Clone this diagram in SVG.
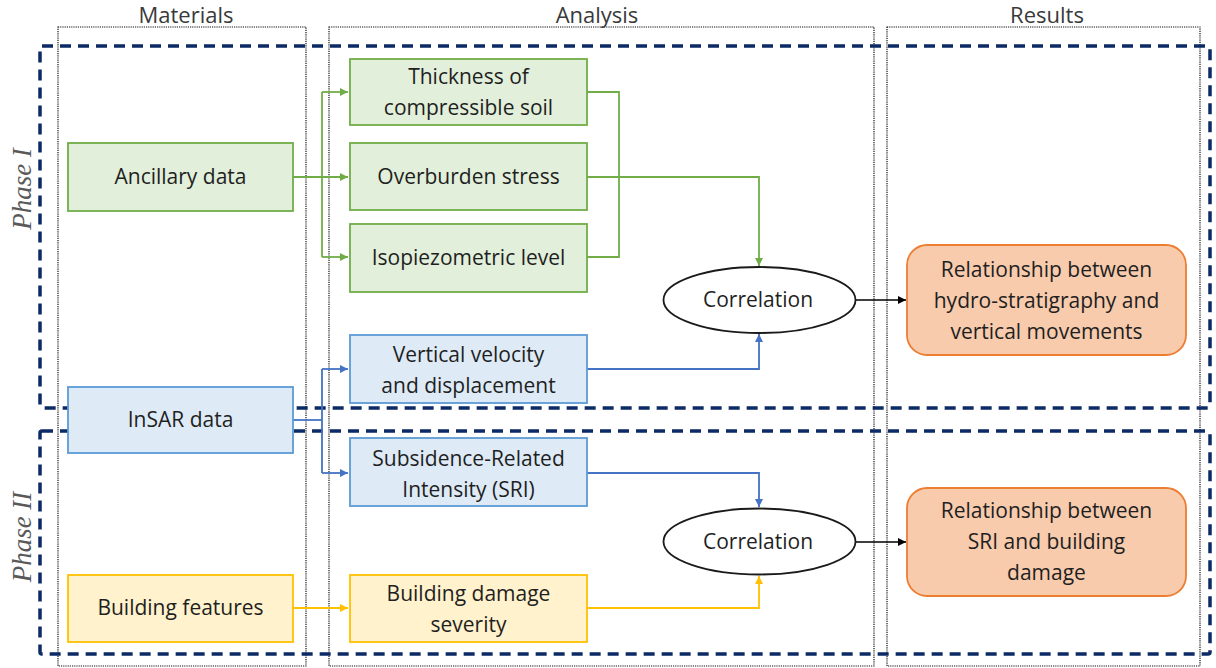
<svg xmlns="http://www.w3.org/2000/svg" width="1216" height="668" viewBox="0 0 1216 668">
<style>
  .col { fill: none; stroke: #111111; stroke-width: 1.2; stroke-dasharray: 1.2 1; }
  .phase { fill: none; stroke: #0b2a66; stroke-width: 3.5; stroke-dasharray: 11 7; }
  .hdr { font-family: "Open Sans", "Liberation Sans", sans-serif; font-size: 22px; fill: #3a3a3a; text-anchor: middle; }
  .ph { font-family: "Liberation Serif", serif; font-style: italic; font-size: 27px; fill: #595959; text-anchor: middle; }
  .t { font-family: "Open Sans", "Liberation Sans", sans-serif; font-size: 21px; fill: #1f1f1f; text-anchor: middle; }
  .green { fill: #e2efda; stroke: #70ad47; stroke-width: 1.8; }
  .blue { fill: #deebf7; stroke: #5b9bd5; stroke-width: 1.8; }
  .yellow { fill: #fff2cc; stroke: #ffc000; stroke-width: 1.8; }
  .orange { fill: #f8cbad; stroke: #ed7d31; stroke-width: 1.8; }
  .ell { fill: #ffffff; stroke: #1a1a1a; stroke-width: 1.8; }
  .cg { fill: none; stroke: #70ad47; stroke-width: 1.8; }
  .cb { fill: none; stroke: #4472c4; stroke-width: 1.8; }
  .cy { fill: none; stroke: #ffc000; stroke-width: 1.8; }
  .ck { fill: none; stroke: #000000; stroke-width: 1.6; }
</style>
<defs>
  <marker id="ag" markerUnits="userSpaceOnUse" markerWidth="10" markerHeight="8" refX="8" refY="4" orient="auto"><path d="M0,0 L8,4 L0,8 Z" fill="#70ad47"/></marker>
  <marker id="ab" markerUnits="userSpaceOnUse" markerWidth="10" markerHeight="8" refX="8" refY="4" orient="auto"><path d="M0,0 L8,4 L0,8 Z" fill="#4472c4"/></marker>
  <marker id="ay" markerUnits="userSpaceOnUse" markerWidth="10" markerHeight="8" refX="8" refY="4" orient="auto"><path d="M0,0 L8,4 L0,8 Z" fill="#ffc000"/></marker>
  <marker id="ak" markerUnits="userSpaceOnUse" markerWidth="10" markerHeight="8" refX="8" refY="4" orient="auto"><path d="M0,0 L8,4 L0,8 Z" fill="#000000"/></marker>
</defs>
<rect width="1216" height="668" fill="#ffffff"/>

<g id="columns">
  <rect class="col" x="58" y="27" width="248" height="639"/>
  <rect class="col" x="329" y="27" width="545" height="639"/>
  <rect class="col" x="887" y="27" width="313" height="639"/>
  <text class="hdr" x="186" y="23">Materials</text>
  <text class="hdr" x="597" y="23">Analysis</text>
  <text class="hdr" x="1047" y="23">Results</text>
</g>

<g id="phases">
  <rect class="phase" x="40" y="46" width="1170" height="362" rx="2"/>
  <rect class="phase" x="40" y="431" width="1170" height="223" rx="2"/>
  <text class="ph" transform="translate(31,189) rotate(-90)">Phase I</text>
  <text class="ph" transform="translate(31,537) rotate(-90)">Phase II</text>
</g>

<g id="connectors">
  <path class="cg" d="M293,177 H348" marker-end="url(#ag)"/>
  <path class="cg" d="M322,92 V257"/>
  <path class="cg" d="M322,92 H348" marker-end="url(#ag)"/>
  <path class="cg" d="M322,257 H348" marker-end="url(#ag)"/>
  <path class="cg" d="M587,92 H619 V257 H587"/>
  <path class="cg" d="M587,177 H759 V266" marker-end="url(#ag)"/>
  <path class="cb" d="M293,420 H322"/>
  <path class="cb" d="M322,369 V473"/>
  <path class="cb" d="M322,369 H348" marker-end="url(#ab)"/>
  <path class="cb" d="M322,473 H348" marker-end="url(#ab)"/>
  <path class="cb" d="M587,369 H759 V334" marker-end="url(#ab)"/>
  <path class="cb" d="M587,473 H759 V507" marker-end="url(#ab)"/>
  <path class="cy" d="M293,608 H348" marker-end="url(#ay)"/>
  <path class="cy" d="M587,608 H759 V576" marker-end="url(#ay)"/>
  <path class="ck" d="M856,300 H906" marker-end="url(#ak)"/>
  <path class="ck" d="M856,542 H906" marker-end="url(#ak)"/>
</g>

<g id="ancillary">
  <rect class="green" x="68" y="143" width="225" height="68"/>
  <text class="t" x="180.5" y="184">Ancillary data</text>
</g>
<g id="thickness">
  <rect class="green" x="350" y="59" width="237" height="66"/>
  <text class="t" x="468.5" y="84">Thickness of</text>
  <text class="t" x="468.5" y="115">compressible soil</text>
</g>
<g id="overburden">
  <rect class="green" x="350" y="143" width="237" height="67"/>
  <text class="t" x="468.5" y="184">Overburden stress</text>
</g>
<g id="isopiezometric">
  <rect class="green" x="350" y="224" width="237" height="68"/>
  <text class="t" x="468.5" y="265">Isopiezometric level</text>
</g>
<g id="vertical-velocity">
  <rect class="blue" x="350" y="335" width="237" height="68"/>
  <text class="t" x="468.5" y="362">Vertical velocity</text>
  <text class="t" x="468.5" y="393">and displacement</text>
</g>
<g id="insar">
  <rect class="blue" x="68" y="387" width="225" height="66"/>
  <text class="t" x="180.5" y="427">InSAR data</text>
</g>
<g id="sri">
  <rect class="blue" x="350" y="438" width="237" height="68"/>
  <text class="t" x="468.5" y="466">Subsidence-Related</text>
  <text class="t" x="468.5" y="497">Intensity (SRI)</text>
</g>
<g id="building-features">
  <rect class="yellow" x="68" y="575" width="225" height="67"/>
  <text class="t" x="180.5" y="615">Building features</text>
</g>
<g id="building-damage">
  <rect class="yellow" x="350" y="575" width="237" height="67"/>
  <text class="t" x="468.5" y="601">Building damage</text>
  <text class="t" x="468.5" y="632">severity</text>
</g>
<g id="correlation-1">
  <ellipse class="ell" cx="759.5" cy="300" rx="96" ry="33"/>
  <text class="t" x="758" y="307">Correlation</text>
</g>
<g id="correlation-2">
  <ellipse class="ell" cx="759.5" cy="541.5" rx="96" ry="33"/>
  <text class="t" x="758" y="549">Correlation</text>
</g>
<g id="result-1">
  <rect class="orange" x="907" y="245" width="279" height="110" rx="20"/>
  <text class="t" x="1046.5" y="277">Relationship between</text>
  <text class="t" x="1046.5" y="308">hydro-stratigraphy and</text>
  <text class="t" x="1046.5" y="339">vertical movements</text>
</g>
<g id="result-2">
  <rect class="orange" x="907" y="488" width="279" height="108" rx="20"/>
  <text class="t" x="1046.5" y="518">Relationship between</text>
  <text class="t" x="1046.5" y="549">SRI and building</text>
  <text class="t" x="1046.5" y="580">damage</text>
</g>
</svg>
